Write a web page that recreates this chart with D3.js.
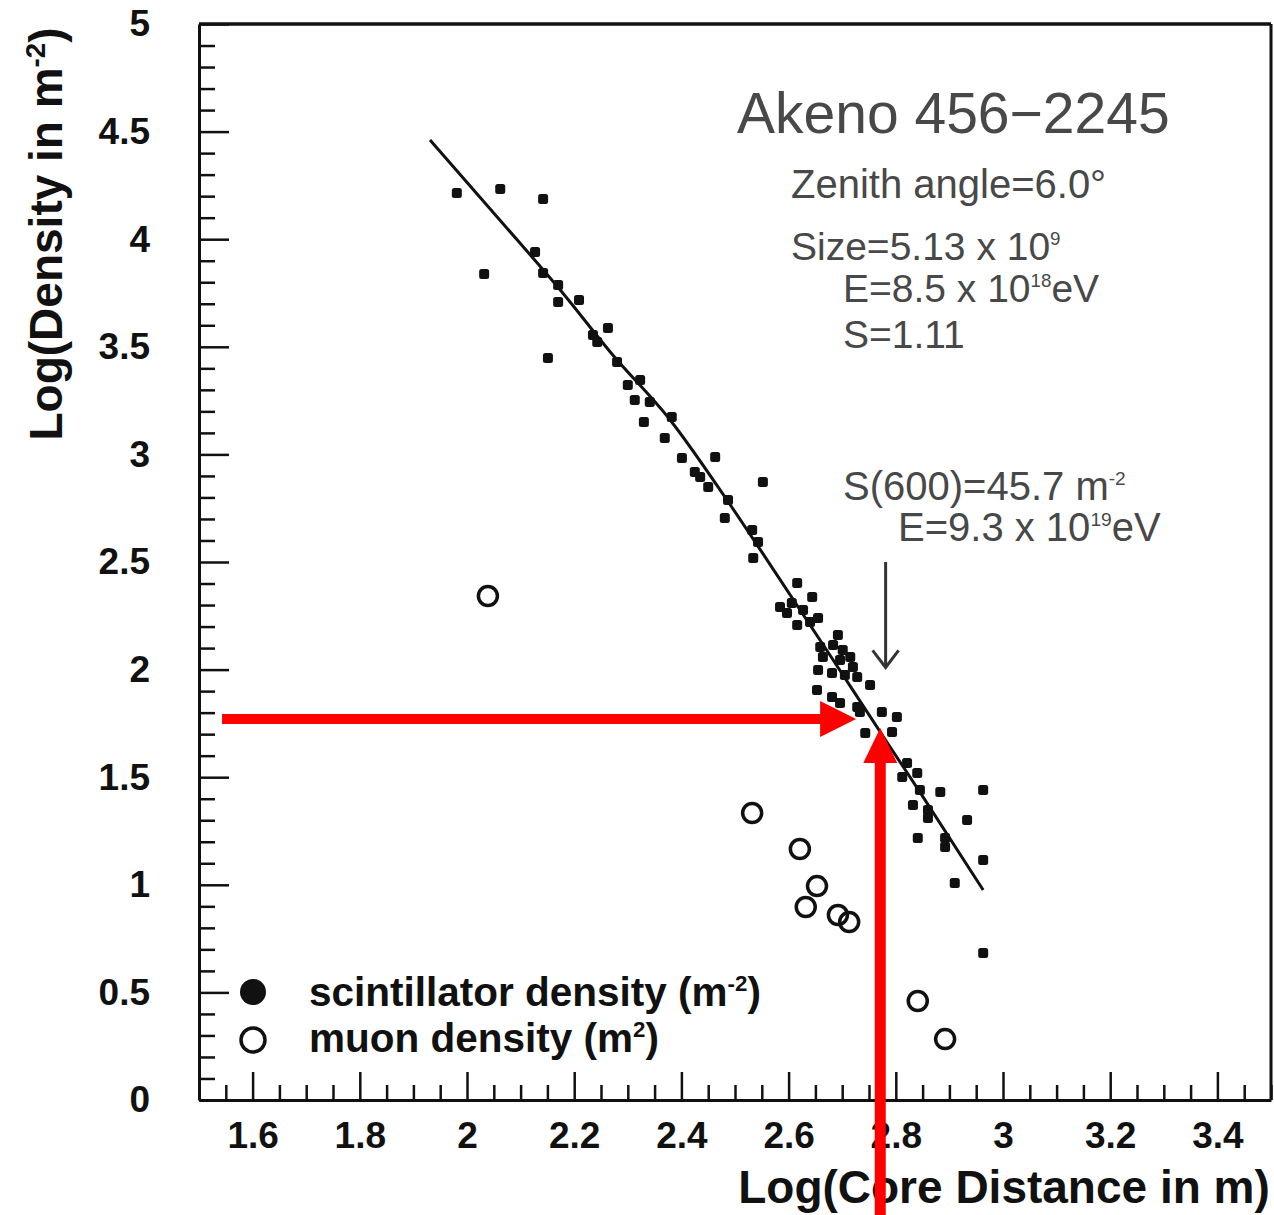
<!DOCTYPE html>
<html>
<head>
<meta charset="utf-8">
<script src="https://cdn.jsdelivr.net/npm/d3@7"></script>
<style>
  body { margin: 0; background: #fff; }
  text { font-family: "Liberation Sans", Arial, Helvetica, sans-serif; }
</style>
</head>
<body>
<div id="root"></div>
<script>
// scintillator density points: log10(core distance / m), log10(density / m^-2)
var scintX = [1.981, 2.062, 2.142, 2.032, 2.127, 2.142, 2.170, 2.170, 2.209, 2.151,
              2.263, 2.235, 2.243, 2.280, 2.300, 2.323, 2.313, 2.341, 2.330, 2.382,
              2.369, 2.401, 2.463, 2.425, 2.435, 2.450, 2.487, 2.481, 2.552, 2.532,
              2.543, 2.534, 2.616, 2.584, 2.597, 2.644, 2.616, 2.606, 2.627, 2.640,
              2.655, 2.692, 2.659, 2.683, 2.701, 2.664, 2.696, 2.715, 2.720, 2.655,
              2.681, 2.705, 2.728, 2.752, 2.653, 2.681, 2.696, 2.728, 2.733, 2.774,
              2.802, 2.743, 2.793, 2.821, 2.840, 2.812, 2.845, 2.883, 2.963, 2.832,
              2.860, 2.860, 2.933, 2.841, 2.892, 2.892, 2.963, 2.910, 2.963];
var scintY = [4.215, 4.233, 4.187, 3.838, 3.941, 3.843, 3.787, 3.708, 3.717, 3.448,
              3.587, 3.555, 3.522, 3.429, 3.322, 3.346, 3.253, 3.243, 3.151, 3.174,
              3.076, 2.983, 2.988, 2.918, 2.895, 2.849, 2.788, 2.704, 2.872, 2.649,
              2.593, 2.519, 2.402, 2.291, 2.263, 2.337, 2.207, 2.309, 2.277, 2.221,
              2.240, 2.161, 2.105, 2.114, 2.091, 2.059, 2.045, 2.059, 2.012, 1.998,
              1.984, 1.975, 1.966, 1.928, 1.905, 1.873, 1.845, 1.826, 1.803, 1.803,
              1.780, 1.705, 1.710, 1.566, 1.520, 1.501, 1.441, 1.431, 1.441, 1.371,
              1.348, 1.310, 1.301, 1.217, 1.217, 1.176, 1.115, 1.008, 0.683];

// muon density points
var muonX = [2.039, 2.532, 2.621, 2.653, 2.632, 2.692, 2.713, 2.841, 2.892];
var muonY = [2.342, 1.334, 1.166, 0.994, 0.897, 0.860, 0.827, 0.460, 0.283];

// lateral distribution fit
var fitX = [1.931, 2.062, 2.174, 2.272, 2.379, 2.485, 2.560, 2.677, 2.782, 2.845, 2.963];
var fitY = [4.461, 4.087, 3.764, 3.462, 3.160, 2.788, 2.509, 2.068, 1.668, 1.431, 0.976];

var xTicks = [1.6, 1.8, 2, 2.2, 2.4, 2.6, 2.8, 3, 3.2, 3.4];
var yTicks = [0, 0.5, 1, 1.5, 2, 2.5, 3, 3.5, 4, 4.5, 5];

// S(600) marker and the hand-drawn red arrows
var s600X = 2.781, s600ArrowY = [2.50, 2.01];
var redHX = [1.543, 2.726], redHY = 1.77;
var redVX = 2.771, redVY = [-0.55, 1.729];

var width = 1274, height = 1215;
var ink = "#111";

var svg = d3.select("#root")
            .append("svg")
            .attr("width", width)
            .attr("height", height);

var x = d3.scaleLinear().domain([1.5, 3.5]).range([199, 1271]);
var y = d3.scaleLinear().domain([0, 5]).range([1100, 24]);

var isMajor = function(v, step) { return Math.abs(v / step - Math.round(v / step)) < 1e-6; };
var xMinor = d3.range(0, 41).map(function(i) { return +(1.5 + i * 0.05).toFixed(2); })
               .filter(function(v) { return !isMajor(v, 0.2); });
var yMinor = d3.range(0, 51).map(function(i) { return +(i * 0.1).toFixed(1); })
               .filter(function(v) { return !isMajor(v, 0.5); });

// minor ticks
svg.append("g")
   .attr("transform", "translate(0," + y(0) + ")")
   .call(d3.axisBottom(x).tickValues(xMinor).tickSizeInner(-15).tickSizeOuter(0).tickFormat(""))
   .call(function(g) { g.select(".domain").remove(); });
svg.append("g")
   .attr("transform", "translate(" + x(1.5) + ",0)")
   .call(d3.axisLeft(y).tickValues(yMinor).tickSizeInner(-16).tickSizeOuter(0).tickFormat(""))
   .call(function(g) { g.select(".domain").remove(); });

// major ticks with labels
var xAxis = svg.append("g")
   .attr("transform", "translate(0," + y(0) + ")")
   .call(d3.axisBottom(x).tickValues(xTicks).tickSizeInner(-28).tickSizeOuter(0).tickPadding(22).tickFormat(d3.format("")));
var yAxis = svg.append("g")
   .attr("transform", "translate(" + x(1.5) + ",0)")
   .call(d3.axisLeft(y).tickValues(yTicks).tickSizeInner(-30).tickSizeOuter(0).tickPadding(49).tickFormat(d3.format("")));

[xAxis, yAxis].forEach(function(a) {
  a.selectAll("text")
   .attr("font-family", "'Liberation Sans', Arial, sans-serif")
   .attr("font-size", 37)
   .attr("font-weight", "bold")
   .attr("fill", ink);
  a.select(".domain").attr("stroke", ink).attr("stroke-width", 3);
});
svg.selectAll(".tick line").attr("stroke", ink).attr("stroke-width", 2.5);

// frame top and right
svg.append("line")
   .attr("x1", x(1.5)).attr("x2", x(3.5)).attr("y1", y(5)).attr("y2", y(5))
   .attr("stroke", ink).attr("stroke-width", 3.5);
svg.append("line")
   .attr("x1", x(3.5)).attr("x2", x(3.5)).attr("y1", y(5)).attr("y2", y(0))
   .attr("stroke", ink).attr("stroke-width", 3);

// text with superscripts: parts = [[string, isSup], ...]
function rich(t, parts, fs, supScale) {
  var up = false, k = supScale || 0.6, rise = fs * 0.38;
  parts.forEach(function(p) {
    var ts = t.append("tspan").text(p[0]).attr("font-size", p[1] ? fs * k : fs);
    if (p[1] && !up) { ts.attr("dy", -rise); up = true; }
    else if (!p[1] && up) { ts.attr("dy", rise); up = false; }
  });
  return t;
}

// axis titles
rich(svg.append("text")
        .attr("transform", "translate(62,234) rotate(-90)")
        .attr("text-anchor", "middle")
        .attr("font-weight", "bold")
        .attr("fill", ink),
     [["Log(Density in m", false], ["-2", true], [")", false]], 46);

svg.append("text")
   .attr("x", 1004).attr("y", 1203)
   .attr("text-anchor", "middle")
   .attr("font-size", 46)
   .attr("font-weight", "bold")
   .attr("fill", ink)
   .text("Log(Core Distance in m)");

// fit curve
var pts = fitX.map(function(d, i) { return [d, fitY[i]]; });
svg.append("path")
   .attr("d", d3.line().x(function(d) { return x(d[0]); }).y(function(d) { return y(d[1]); })
                .curve(d3.curveMonotoneX)(pts))
   .attr("fill", "none")
   .attr("stroke", ink)
   .attr("stroke-width", 3);

// scintillator points
svg.append("g").selectAll("rect")
   .data(scintX.map(function(d, i) { return [d, scintY[i]]; }))
   .enter().append("rect")
   .attr("x", function(d) { return x(d[0]) - 5; })
   .attr("y", function(d) { return y(d[1]) - 5; })
   .attr("width", 10).attr("height", 10).attr("rx", 2.5)
   .attr("fill", ink);

// muon points
svg.append("g").selectAll("circle")
   .data(muonX.map(function(d, i) { return [d, muonY[i]]; }))
   .enter().append("circle")
   .attr("cx", function(d) { return x(d[0]); })
   .attr("cy", function(d) { return y(d[1]); })
   .attr("r", 9.5)
   .attr("fill", "none")
   .attr("stroke", ink)
   .attr("stroke-width", 3.5);

// annotations
var grey = "#484848";
svg.append("text").attr("x", 737).attr("y", 133)
   .attr("font-size", 57).attr("fill", grey).text("Akeno 456\u22122245");
svg.append("text").attr("x", 791).attr("y", 198)
   .attr("font-size", 40).attr("fill", grey).text("Zenith angle=6.0\u00b0");
rich(svg.append("text").attr("x", 791).attr("y", 260).attr("fill", grey),
     [["Size=5.13 x 10", false], ["9", true]], 39, 0.48);
rich(svg.append("text").attr("x", 843).attr("y", 302).attr("fill", grey),
     [["E=8.5 x 10", false], ["18", true], ["eV", false]], 39, 0.48);
svg.append("text").attr("x", 843).attr("y", 348)
   .attr("font-size", 39).attr("fill", grey).text("S=1.11");
rich(svg.append("text").attr("x", 843).attr("y", 500).attr("fill", grey),
     [["S(600)=45.7 m", false], ["-2", true]], 40, 0.48);
rich(svg.append("text").attr("x", 898).attr("y", 541).attr("fill", grey),
     [["E=9.3 x 10", false], ["19", true], ["eV", false]], 40, 0.48);

// S(600) arrow
svg.append("line")
   .attr("x1", x(s600X)).attr("x2", x(s600X))
   .attr("y1", y(s600ArrowY[0])).attr("y2", y(s600ArrowY[1]))
   .attr("stroke", "#333").attr("stroke-width", 3);
svg.append("path")
   .attr("d", "M" + (x(s600X) - 13) + "," + (y(s600ArrowY[1]) - 17) +
              "L" + x(s600X) + "," + y(s600ArrowY[1]) +
              "L" + (x(s600X) + 13) + "," + (y(s600ArrowY[1]) - 17))
   .attr("fill", "none").attr("stroke", "#333").attr("stroke-width", 3);

// legend
svg.append("circle").attr("cx", 253).attr("cy", 992).attr("r", 13).attr("fill", ink);
svg.append("circle").attr("cx", 253).attr("cy", 1040).attr("r", 12)
   .attr("fill", "none").attr("stroke", ink).attr("stroke-width", 3.5);
rich(svg.append("text").attr("x", 309).attr("y", 1006).attr("font-weight", "bold").attr("fill", ink),
     [["scintillator density (m", false], ["-2", true], [")", false]], 40.5, 0.55);
rich(svg.append("text").attr("x", 309).attr("y", 1052).attr("font-weight", "bold").attr("fill", ink),
     [["muon density (m", false], ["2", true], [")", false]], 40.5, 0.55);

// red arrows
var red = "#ff0000";
var hx0 = x(redHX[0]), hx1 = x(redHX[1]), hy = y(redHY);
svg.append("line").attr("x1", hx0).attr("x2", hx1 - 34).attr("y1", hy).attr("y2", hy)
   .attr("stroke", red).attr("stroke-width", 10);
svg.append("path")
   .attr("d", "M" + hx1 + "," + hy + "L" + (hx1 - 36) + "," + (hy - 18) + "L" + (hx1 - 36) + "," + (hy + 18) + "Z")
   .attr("fill", red);

var vx = x(redVX), vy0 = y(redVY[0]), vy1 = y(redVY[1]);
svg.append("line").attr("x1", vx).attr("x2", vx).attr("y1", vy0).attr("y2", vy1 + 33)
   .attr("stroke", red).attr("stroke-width", 11);
svg.append("path")
   .attr("d", "M" + vx + "," + vy1 + "L" + (vx - 17) + "," + (vy1 + 35) + "L" + (vx + 17) + "," + (vy1 + 35) + "Z")
   .attr("fill", red);
</script>
</body>
</html>
